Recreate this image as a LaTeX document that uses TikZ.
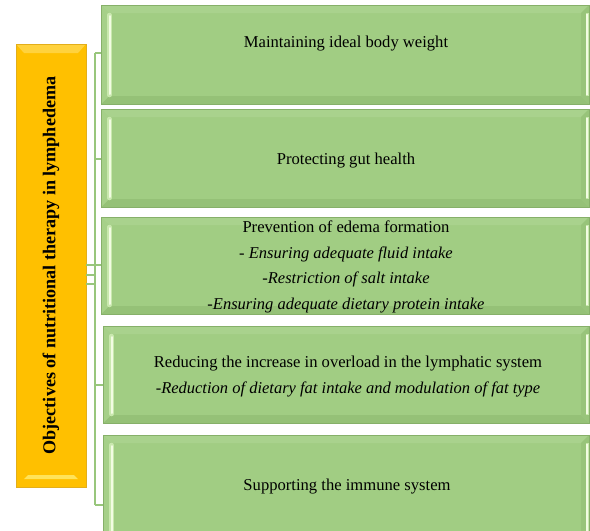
\documentclass[tikz,border=0pt]{standalone}
\usepackage{fontspec}
\setmainfont{Liberation Serif}
\usetikzlibrary{calc}
\definecolor{gfill}{HTML}{A1CD83}
\definecolor{gtop}{HTML}{A9D28D}
\definecolor{gleft}{HTML}{A6D089}
\definecolor{gbot}{HTML}{95C177}
\definecolor{gright}{HTML}{98C47A}
\definecolor{gedge}{HTML}{86B069}
\definecolor{ghi}{HTML}{F2FCE2}
\definecolor{ghisoft}{HTML}{C9E8AE}
\definecolor{yfill}{HTML}{FFC000}
\definecolor{ytop}{HTML}{FFD23E}
\definecolor{yhi}{HTML}{FFE35A}
\definecolor{yedge}{HTML}{E3AE1A}
\definecolor{connc}{HTML}{98C67C}
\newcommand{\subtxt}[1]{{\fontsize{16.5}{25.7}\selectfont\itshape #1}}
\tikzset{
  greenbox/.style={draw=gedge, line width=0.9pt, fill=gfill, inner sep=0pt,
    path picture={
      \coordinate (pNW) at (path picture bounding box.north west);
      \coordinate (pNE) at (path picture bounding box.north east);
      \coordinate (pSW) at (path picture bounding box.south west);
      \coordinate (pSE) at (path picture bounding box.south east);
      \fill[gtop] (pNW) -- (pNE) -- ($(pNE)+(-8pt,-8pt)$) -- ($(pNW)+(8pt,-8pt)$) -- cycle;
      \fill[gbot] (pSW) -- (pSE) -- ($(pSE)+(-8pt,8pt)$) -- ($(pSW)+(8pt,8pt)$) -- cycle;
      \fill[gleft] (pNW) -- ($(pNW)+(8pt,-8pt)$) -- ($(pSW)+(8pt,8pt)$) -- (pSW) -- cycle;
      \fill[gright] (pNE) -- ($(pNE)+(-8pt,-8pt)$) -- ($(pSE)+(-8pt,8pt)$) -- (pSE) -- cycle;
      \draw[ghisoft, line width=4.5pt, line cap=round] ($(pNW)+(8.5pt,-10pt)$) -- ($(pSW)+(8.5pt,9pt)$);
      \draw[ghi, line width=2pt, line cap=round] ($(pNW)+(8.5pt,-11pt)$) -- ($(pSW)+(8.5pt,10pt)$);
      \draw[ghisoft, line width=3pt] ($(pNE)+(-2pt,-8pt)$) -- ($(pSE)+(-2pt,8pt)$);
      \draw[ghi, line width=1.4pt] ($(pNE)+(-2pt,-9pt)$) -- ($(pSE)+(-2pt,9pt)$);
    }},
  yellowbox/.style={draw=yedge, line width=0.9pt, fill=yfill, inner sep=0pt,
    path picture={
      \coordinate (qNW) at (path picture bounding box.north west);
      \coordinate (qNE) at (path picture bounding box.north east);
      \coordinate (qSW) at (path picture bounding box.south west);
      \coordinate (qSE) at (path picture bounding box.south east);
      \fill[ytop] (qNW) -- (qNE) -- ($(qNE)+(-8pt,-9pt)$) -- ($(qNW)+(8pt,-9pt)$) -- cycle;
      \fill[yhi] ($(qSW)+(8pt,8pt)$) -- ($(qSE)+(-8pt,8pt)$) -- ($(qSE)+(-12pt,12pt)$) -- ($(qSW)+(12pt,12pt)$) -- cycle;
    }},
  conn/.style={draw=connc, line width=1.1pt},
  txt/.style={text=black, align=center, font=\fontsize{16.6}{25.7}\selectfont, inner sep=0pt}
}
\begin{document}
\begin{tikzpicture}[x=1pt,y=-1pt]
\useasboundingbox (0,0) rectangle (590,531);
\clip (0,0) rectangle (590,531);
\fill[white] (0,0) rectangle (590,531);
% objective box
\node[yellowbox, minimum width=70pt, minimum height=443pt] (obj) at (51,265.5) {};
\node[rotate=90, font=\fontsize{18.1}{20}\selectfont\bfseries, text=black, inner sep=0pt] (objt) at (obj.center) {Objectives of nutritional therapy in lymphedema};
% goal boxes
\node[greenbox, minimum width=488pt, minimum height=99pt] (b1) at (345,54.5) {};
\node[greenbox, minimum width=488pt, minimum height=98pt] (b2) at (345,158) {};
\node[greenbox, minimum width=488pt, minimum height=97pt] (b3) at (345,265.5) {};
\node[greenbox, minimum width=486pt, minimum height=97pt] (b4) at (346,374.5) {};
\node[greenbox, minimum width=486pt, minimum height=110pt] (b5) at (346,490) {};
% texts
\node[txt] (b1t) at ([xshift=1pt,yshift=11pt]b1.center) {Maintaining ideal body weight};
\node[txt] (b2t) at ([xshift=1pt,yshift=-2.5pt]b2.center) {Protecting gut health};
\node[txt] (b3t) at ([xshift=1pt,yshift=-1.5pt]b3.center) {Prevention of edema formation\\
  \subtxt{- Ensuring adequate fluid intake}\\
  \subtxt{-Restriction of salt intake}\\
  \subtxt{-Ensuring adequate dietary protein intake}};
\node[txt] (b4t) at ([xshift=2pt,yshift=-2pt]b4.center) {Reducing the increase in overload in the lymphatic system\\
  \subtxt{-Reduction of dietary fat intake and modulation of fat type}};
\node[txt] (b5t) at (347,486.5) {Supporting the immune system};
% connectors
\coordinate (t1) at (95,53);
\coordinate (t2) at (95,159);
\coordinate (t3) at (95,265);
\coordinate (t4) at (95,385);
\coordinate (t5) at (95,505);
\coordinate (ta) at (95,275);
\coordinate (tb) at (95,284);
\draw[conn] (t1) -- (t5);
\draw[conn] (t1) -- (t1 -| b1.west);
\draw[conn] (t2) -- (t2 -| b2.west);
\draw[conn] (t3) -- (t3 -| b3.west);
\draw[conn] (t4) -- (t4 -| b4.west);
\draw[conn] (t5) -- (t5 -| b5.west);
\draw[conn] (t3 -| obj.east) -- (t3);
\draw[conn] (ta -| obj.east) -- (ta);
\draw[conn] (tb -| obj.east) -- (tb);
\end{tikzpicture}
\end{document}
